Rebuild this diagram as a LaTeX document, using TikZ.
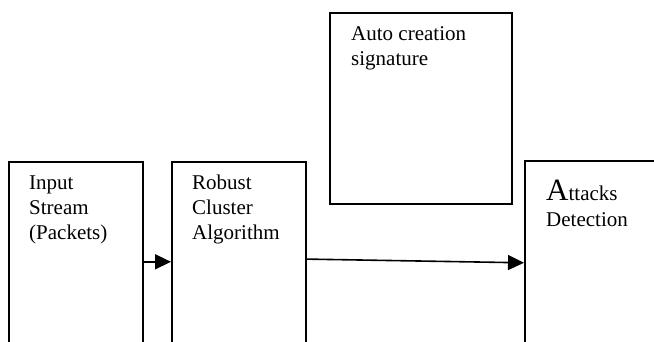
\documentclass[tikz,border=0pt]{standalone}
\usepackage{fontspec}
\setmainfont{Liberation Serif}
\usetikzlibrary{arrows.meta}
\tikzset{
  blk/.style={draw, line width=1.6pt, anchor=north west, inner sep=0pt},
  blktxt/.style={anchor=base west, align=left, inner sep=0pt, font=\fontsize{21}{25}\selectfont},
  flow/.style={line width=1.6pt, -{Triangle[length=16pt, width=15pt]}},
}
\begin{document}
\begin{tikzpicture}[x=1pt, y=-1pt]
  \useasboundingbox (0,0) rectangle (654,342);
  \clip (0,0) rectangle (654,342);

  % Drawing box input
  \node[blk, minimum width=134pt, minimum height=200pt] (input) at (8,161) {};
  \node[blktxt] (inputtxt) at (29,240) {Input\\Stream\\(Packets)};

  % Drawing box cluster
  \node[blk, minimum width=134pt, minimum height=200pt] (cluster) at (171,161) {};
  \node[blktxt] (clustertxt) at (192,240) {Robust\\Cluster\\Algorithm};

  % Drawing box autosig
  \node[blk, minimum width=182pt, minimum height=191pt] (autosig) at (329,12) {};
  \node[blktxt] (autosigtxt) at (351,66) {Auto creation\\signature};

  % Drawing box detect
  \node[blk, minimum width=180pt, minimum height=204pt] (detect) at (524,160) {};
  \node[blktxt] (detecttxt) at (546,227) {{\fontsize{31}{25}\selectfont A}ttacks\\[1.7pt]Detection};

  % Drawing arrows
  \draw[flow] (input) -- (cluster);
  \draw[flow] ([yshift=2.7pt]cluster.east) -- (detect.west);
\end{tikzpicture}
\end{document}
